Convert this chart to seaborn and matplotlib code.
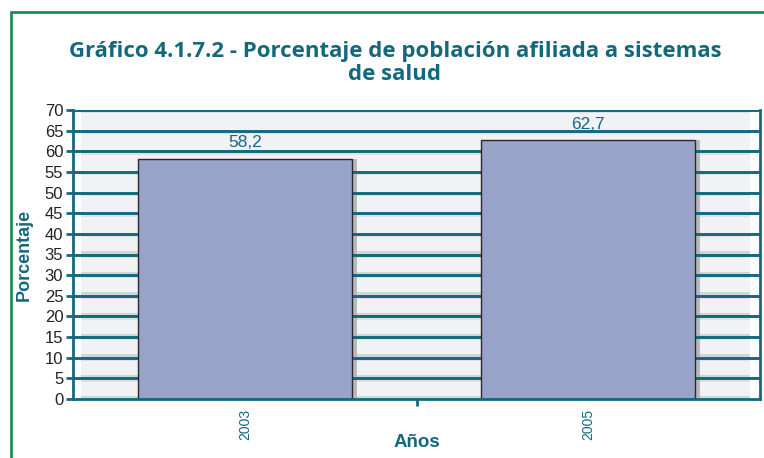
import matplotlib
matplotlib.use('Agg')
import matplotlib.pyplot as plt
import seaborn as sns
import pandas as pd
from matplotlib.lines import Line2D

# Datos del grafico
anios = ['2003', '2005']
porcentajes = [58.2, 62.7]
etiquetas = ['58,2', '62,7']

TEAL = '#14687e'
VERDE = '#1e8c5c'
BARRA = '#97a3c8'

df = pd.DataFrame({'Años': anios, 'Porcentaje': porcentajes})

sns.set_style('white')
plt.rcParams['font.family'] = ['Liberation Sans', 'DejaVu Sans']

fig = plt.figure(figsize=(7.64, 4.58), dpi=100)
ax = fig.add_axes([73 / 764, 1 - 399 / 458, 687 / 764, 289 / 458])

# fondo con bandas (efecto 3D de Excel)
for k in range(0, 70, 5):
    ax.axhspan(k, k + 5, xmin=0.012, xmax=0.985, color='#f1f2f5', zorder=0, lw=0)
    ax.axhspan(k + 4.2, k + 5, xmin=0.012, xmax=0.985, color='#dfe0e6', zorder=0.1, lw=0)
    if k < 40:
        ax.axhspan(k, k + 0.8, xmin=0.012, xmax=0.985, color='#cbd8d4', zorder=0.1, lw=0)

# sombra de las barras
for i, v in enumerate(porcentajes):
    ax.bar(i + 0.015, v, width=0.623, color='#b6b9bd', zorder=1, lw=0)

sns.barplot(data=df, x='Años', y='Porcentaje', color=BARRA, width=0.623,
            edgecolor='#2a2a2a', linewidth=1.0, saturation=1, ax=ax, zorder=3)

for i, (v, txt) in enumerate(zip(porcentajes, etiquetas)):
    ax.text(i, v + 2.0, txt, ha='center', va='bottom', color=TEAL, fontsize=12.5, zorder=6)

ax.set_ylim(0, 70)
ax.set_xlim(-0.5, 1.5)
ax.set_yticks(range(0, 71, 5))
for y in range(5, 71, 5):
    ax.axhline(y, color=TEAL, lw=2.1, zorder=1.5)

ax.spines['top'].set_visible(False)
for s in ['left', 'right', 'bottom']:
    ax.spines[s].set_color(TEAL)
    ax.spines[s].set_linewidth(2)
ax.spines['bottom'].set_zorder(4)

ax.tick_params(axis='y', labelsize=12, labelcolor='#222222', color=TEAL,
               length=5, width=2, direction='out', left=True, pad=2)
ax.set_xticks([0, 1])
ax.set_xticklabels(anios, rotation=90, color=TEAL, fontsize=10)
ax.tick_params(axis='x', length=0, pad=7)
ax.set_xticks([0.5], minor=True)
ax.tick_params(axis='x', which='minor', length=5, width=2, color=TEAL, bottom=True)

ax.set_xlabel('Años', color=TEAL, fontsize=13.5, fontweight='bold')
ax.set_ylabel('Porcentaje', color=TEAL, fontsize=13, fontweight='bold')
ax.xaxis.set_label_coords(0.5, -0.12)
ax.yaxis.set_label_coords(-0.058, 0.5)

fig.text(0.517, 0.862, 'Gráfico 4.1.7.2 - Porcentaje de población afiliada a sistemas\nde salud',
         ha='center', va='center', color=TEAL, fontsize=16, fontweight='bold',
         family=['Open Sans', 'DejaVu Sans'], linespacing=1.15)

# marco verde
fig.add_artist(Line2D([11 / 764, 11 / 764], [0, 1 - 12 / 458], color=VERDE, lw=2, transform=fig.transFigure))
fig.add_artist(Line2D([11 / 764, 1], [1 - 12 / 458, 1 - 12 / 458], color=VERDE, lw=2, transform=fig.transFigure))

fig.savefig('out.png', dpi=100)
